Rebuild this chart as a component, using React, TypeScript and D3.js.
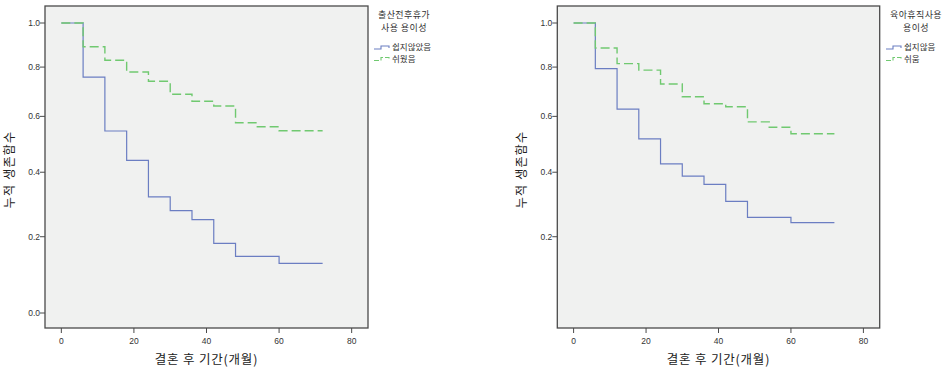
import React from "react";
import * as d3 from "d3";

// 월(개월) 구간
const monthsBlueLeft = [0, 6, 12, 18, 24, 30, 36, 42, 48, 60, 72];
const monthsGreenLeft = [0, 6, 12, 18, 24, 30, 36, 42, 48, 54, 60, 72];
const monthsBlueRight = [0, 6, 12, 18, 24, 30, 36, 42, 48, 60, 72];
const monthsGreenRight = [0, 6, 12, 18, 24, 30, 36, 42, 48, 54, 60, 72];

// 누적 생존함수 값
const survBlueLeft = [1, 0.757, 0.545, 0.44, 0.32, 0.277, 0.25, 0.181, 0.145, 0.126, 0.126];
const survGreenLeft = [1, 0.89, 0.83, 0.779, 0.74, 0.687, 0.659, 0.64, 0.576, 0.561, 0.546, 0.546];
const survBlueRight = [1, 0.793, 0.628, 0.516, 0.428, 0.387, 0.36, 0.306, 0.257, 0.241, 0.241];
const survGreenRight = [1, 0.884, 0.815, 0.787, 0.729, 0.677, 0.649, 0.637, 0.579, 0.559, 0.535, 0.535];

const xTicks = [0, 20, 40, 60, 80];
const yTicksLeft = [0, 0.2, 0.4, 0.6, 0.8, 1.0];
const yTicksRight = [0.2, 0.4, 0.6, 0.8, 1.0];

const legendTitleLeft = ["출산전후휴가", "사용 용이성"];
const legendTitleRight = ["육아휴직사용", "용이성"];
const legendLabelsLeft = ["쉽지않았음", "쉬웠음"];
const legendLabelsRight = ["쉽지않음", "쉬움"];

const xTitle = "결혼 후 기간(개월)";
const yTitle = "누적 생존함수";

const BLUE = "#6b7ec2";
const GREEN = "#70c970";
const KR = "'Noto Sans CJK KR', 'Noto Sans', sans-serif";
const NUM = "'Liberation Sans', Arial, sans-serif";

type Props = {
  left: number;
  plotW: number;
  blue: { m: number[]; v: number[] };
  green: { m: number[]; v: number[] };
  yTicks: number[];
  legendTitle: string[];
  legendLabels: string[];
  legendX: number;
};

const Panel = ({ left, plotW, blue, green, yTicks, legendTitle, legendLabels, legendX }: Props) => {
  const top = 6, bottom = 328;
  const x = d3.scaleLinear().domain([-4.5, 84.5]).range([left, left + plotW]);
  const y = d3.scaleSymlog().constant(1).domain([-0.0365, 1.083]).range([bottom, top]);

  const line = d3.line<[number, number]>()
    .x(d => x(d[0]))
    .y(d => y(d[1]))
    .curve(d3.curveStepAfter);

  const bluePts = blue.m.map((m, i) => [m, blue.v[i]] as [number, number]);
  const greenPts = green.m.map((m, i) => [m, green.v[i]] as [number, number]);

  const midX = left + plotW / 2;
  const midY = 169.5;
  const titleCx = legendX + 30;

  return (
    <g>
      <rect x={left} y={top} width={plotW} height={bottom - top} fill="#f0f1f0" stroke="#4a4a4a" strokeWidth={1.3} />
      <path d={line(bluePts) || ""} fill="none" stroke={BLUE} strokeWidth={1.2} />
      <path d={line(greenPts) || ""} fill="none" stroke={GREEN} strokeWidth={1.4} strokeDasharray="9,4" />

      {yTicks.map(t => (
        <g key={t}>
          <line x1={left - 5} x2={left} y1={y(t)} y2={y(t)} stroke="#4a4a4a" />
          <text x={left - 5} y={y(t) + 3} textAnchor="end" fontSize={8.5} fontFamily={NUM} fill="#333">
            {t.toFixed(1)}
          </text>
        </g>
      ))}
      {xTicks.map(t => (
        <g key={t}>
          <line x1={x(t)} x2={x(t)} y1={bottom} y2={bottom + 5} stroke="#4a4a4a" />
          <text x={x(t)} y={bottom + 16} textAnchor="middle" fontSize={8.5} fontFamily={NUM} fill="#333">
            {t}
          </text>
        </g>
      ))}

      <text x={midX} y={364} textAnchor="middle" fontSize={12.5} fontFamily={KR} letterSpacing={0.8} fill="#222">
        {xTitle}
      </text>
      <text transform={`translate(${left - 31},${midY}) rotate(-90)`} textAnchor="middle" fontSize={12} fontFamily={KR} letterSpacing={1.2} fill="#222">
        {yTitle}
      </text>

      {legendTitle.map((s, i) => (
        <text key={s} x={titleCx} y={18 + i * 13.2} textAnchor="middle" fontSize={9} letterSpacing={0.4} fontFamily={KR} fill="#333">
          {s}
        </text>
      ))}
      {legendLabels.map((s, i) => {
        const ly = 46 + i * 11.5;
        const col = i === 0 ? BLUE : GREEN;
        const d = `M${legendX},${ly + 3}H${legendX + 7}V${ly}H${legendX + 15}V${ly + 2}`;
        return (
          <g key={s}>
            <path d={d} fill="none" stroke={col} strokeWidth={1.1} strokeDasharray={i === 0 ? undefined : "5,2"} />
            <text x={legendX + 18} y={ly + 4} fontSize={8.5} fontFamily={KR} fill="#333">
              {s}
            </text>
          </g>
        );
      })}
    </g>
  );
};

export default function App() {
  return (
    <svg width={947} height={370} style={{ position: "absolute", left: 0, top: 0, background: "#fff" }}>
      <Panel
        left={45}
        plotW={323}
        blue={{ m: monthsBlueLeft, v: survBlueLeft }}
        green={{ m: monthsGreenLeft, v: survGreenLeft }}
        yTicks={yTicksLeft}
        legendTitle={legendTitleLeft}
        legendLabels={legendLabelsLeft}
        legendX={374}
      />
      <Panel
        left={557.3}
        plotW={322.4}
        blue={{ m: monthsBlueRight, v: survBlueRight }}
        green={{ m: monthsGreenRight, v: survGreenRight }}
        yTicks={yTicksRight}
        legendTitle={legendTitleRight}
        legendLabels={legendLabelsRight}
        legendX={886}
      />
    </svg>
  );
}
